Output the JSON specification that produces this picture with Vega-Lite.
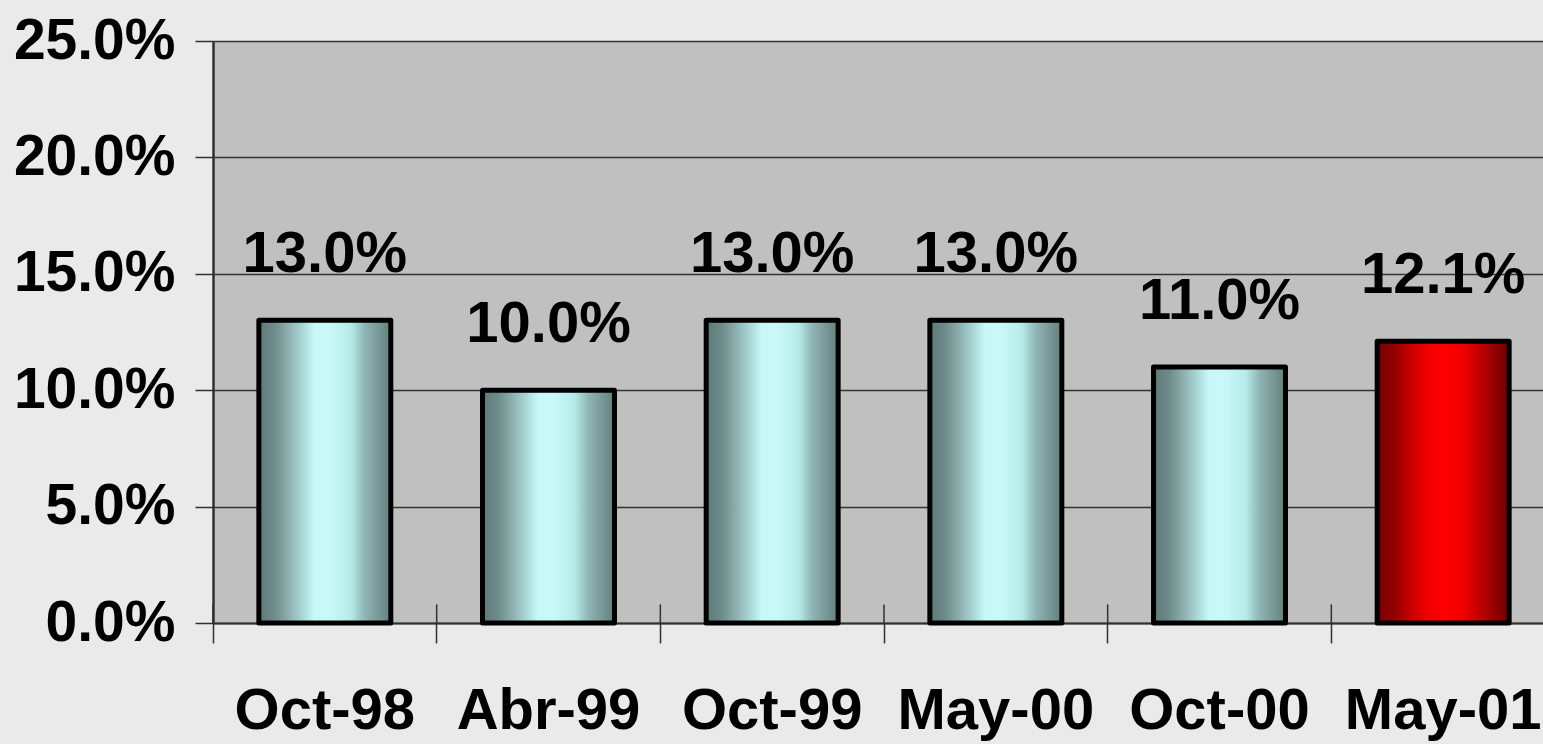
{
  "$schema": "https://vega.github.io/schema/vega-lite/v6.json",
  "width": 1342,
  "height": 582,
  "autosize": {"type": "none"},
  "padding": {"left": 213, "top": 41, "right": 0, "bottom": 121},
  "background": "#EAEAEA",
  "config": {
    "view": {"fill": "#C0C0C0", "stroke": null},
    "font": "Liberation Sans"
  },
  "data": {
    "values": [
      {"period": "Oct-98", "v": 0.130},
      {"period": "Abr-99", "v": 0.100},
      {"period": "Oct-99", "v": 0.130},
      {"period": "May-00", "v": 0.130},
      {"period": "Oct-00", "v": 0.110},
      {"period": "May-01", "v": 0.121}
    ]
  },
  "encoding": {
    "x": {
      "field": "period", "type": "nominal", "sort": null,
      "scale": {"paddingInner": 0, "paddingOuter": 0},
      "axis": {
        "title": null, "labelAngle": 0, "bandPosition": 0, "labelLimit": 0,
        "labelFont": "Liberation Sans", "labelFontSize": 58, "labelFontWeight": "bold", "labelColor": "#000000",
        "labelPadding": 39, "tickSize": 20, "tickColor": "#303030", "tickWidth": 1.5,
        "domainColor": "#303030", "domainWidth": 2, "grid": false
      }
    }
  },
  "layer": [
    {
      "mark": {"type": "bar", "width": {"band": 0.59}, "stroke": "#000000", "strokeWidth": 5, "strokeJoin": "round"},
      "encoding": {
        "y": {
          "field": "v", "type": "quantitative",
          "scale": {"domain": [0, 0.25], "nice": false},
          "axis": {
            "title": null, "format": ".1%", "values": [0, 0.05, 0.1, 0.15, 0.2, 0.25], "labelLimit": 0,
            "labelFont": "Liberation Sans", "labelFontSize": 57, "labelFontWeight": "bold", "labelColor": "#000000",
            "labelPadding": 20, "tickSize": 18, "tickColor": "#303030", "tickWidth": 1.5,
            "domainColor": "#303030", "domainWidth": 2.5,
            "grid": true, "gridColor": "#333333", "gridWidth": 1.3
          }
        },
        "fill": {
          "condition": {
            "test": "datum.period === 'May-01'",
            "value": {
              "gradient": "linear", "x1": 0, "x2": 1, "y1": 0, "y2": 0,
              "stops": [
                {"offset": 0, "color": "#780000"},
                {"offset": 0.12, "color": "#900000"},
                {"offset": 0.25, "color": "#C80000"},
                {"offset": 0.38, "color": "#F00000"},
                {"offset": 0.5, "color": "#FF0000"},
                {"offset": 0.65, "color": "#F00000"},
                {"offset": 0.78, "color": "#C00000"},
                {"offset": 0.9, "color": "#900000"},
                {"offset": 1, "color": "#700000"}
              ]
            }
          },
          "value": {
            "gradient": "linear", "x1": 0, "x2": 1, "y1": 0, "y2": 0,
            "stops": [
              {"offset": 0, "color": "#5E7A78"},
              {"offset": 0.12, "color": "#6E8C8A"},
              {"offset": 0.22, "color": "#8AAEAD"},
              {"offset": 0.32, "color": "#A8D2D2"},
              {"offset": 0.42, "color": "#C8F8F8"},
              {"offset": 0.55, "color": "#C8F8F8"},
              {"offset": 0.7, "color": "#B6EAEA"},
              {"offset": 0.8, "color": "#90B6B5"},
              {"offset": 1, "color": "#637F7D"}
            ]
          }
        }
      }
    },
    {
      "mark": {"type": "text", "baseline": "alphabetic", "align": "center", "dy": -48, "font": "Liberation Sans", "fontSize": 58, "fontWeight": "bold", "color": "#000000"},
      "encoding": {
        "y": {"field": "v", "type": "quantitative"},
        "text": {"field": "v", "type": "quantitative", "format": ".1%"}
      }
    },
    {
      "mark": {"type": "rule", "color": "#303030", "strokeWidth": 1.5},
      "encoding": {
        "x": {"field": "period", "type": "nominal", "sort": null, "bandPosition": 0},
        "y": {"datum": 0},
        "y2": {"datum": 0.008}
      }
    }
  ]
}
